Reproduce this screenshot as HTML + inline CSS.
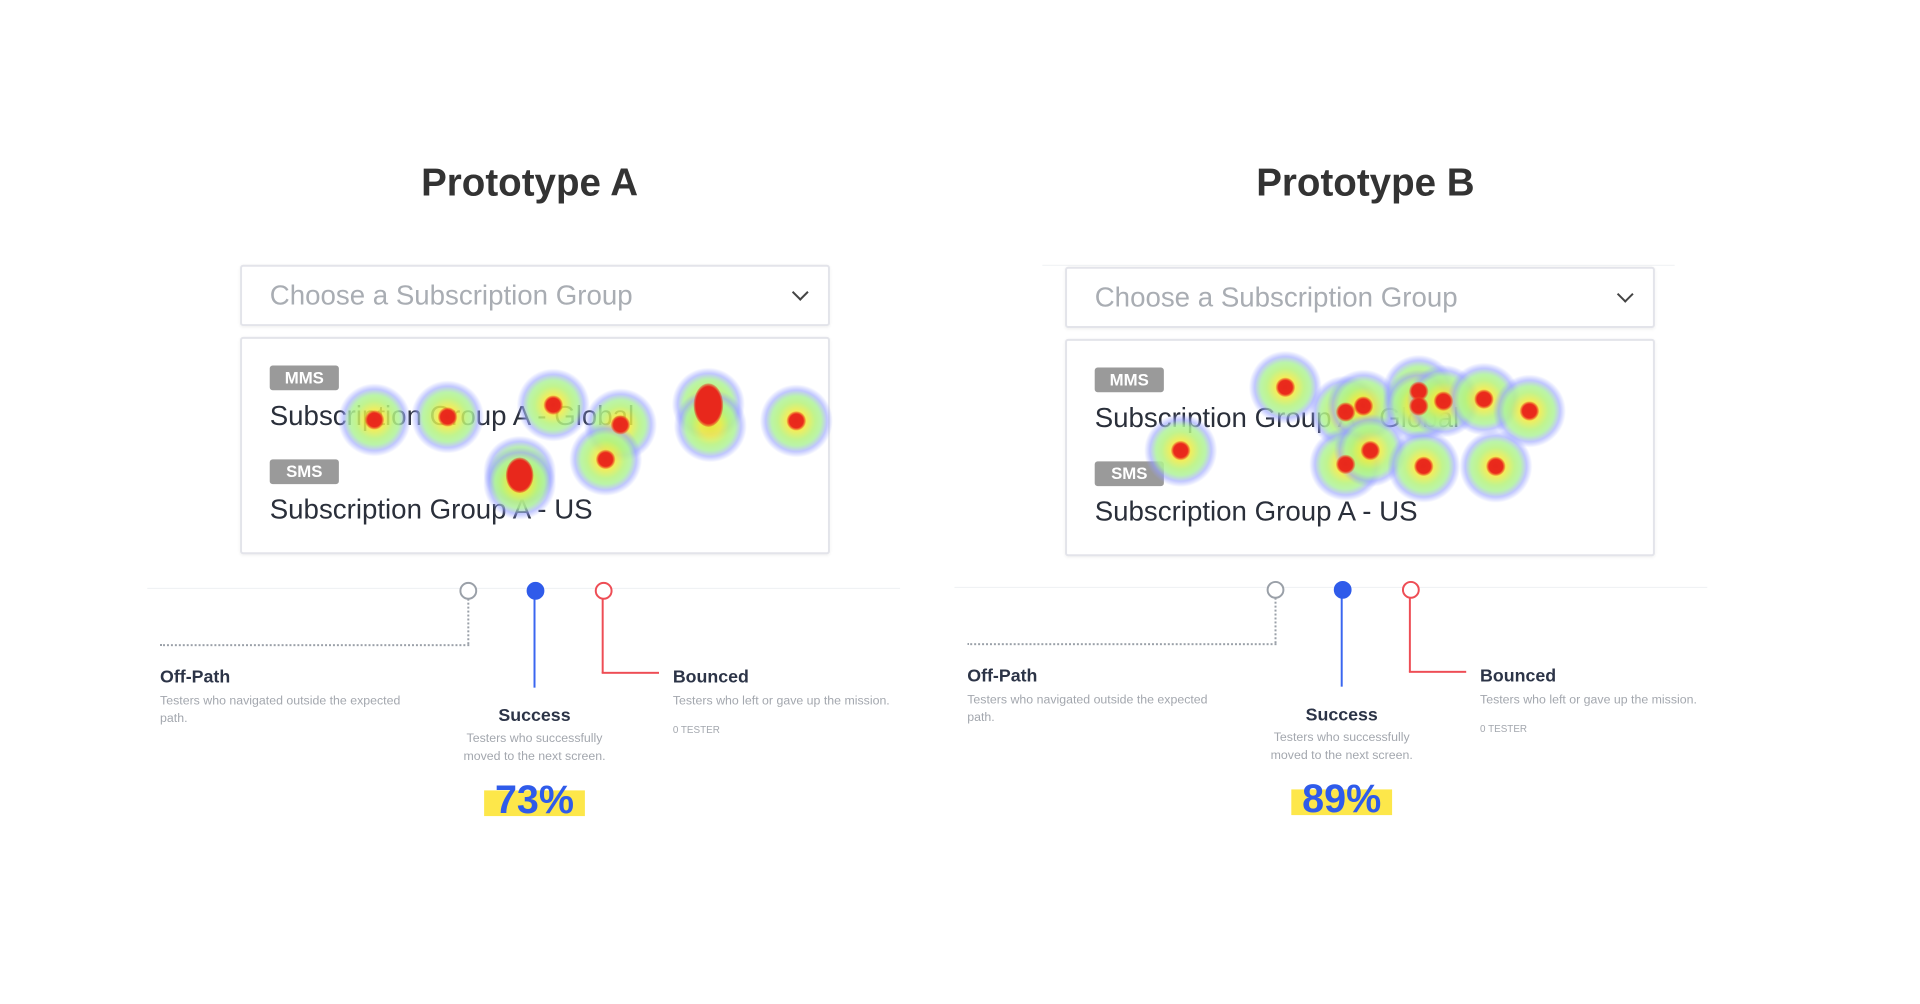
<!DOCTYPE html>
<html><head><meta charset="utf-8"><style>
body{margin:0;width:1920px;height:1004px;background:#fff;position:relative;overflow:hidden;font-family:"Liberation Sans",sans-serif}
#w{position:absolute;left:0;top:0;width:1944px;height:1016px;transform:scale(0.988);transform-origin:0 0}
.a{position:absolute}
.title{font-size:39px;font-weight:bold;color:#333;transform:translateX(-50%);top:164px;white-space:nowrap}
.box{position:absolute;border:2px solid #e3e4ea;border-radius:3px;background:#fff;box-sizing:border-box;box-shadow:0 1px 3px rgba(0,0,0,.06)}
.ph{position:absolute;left:28px;font-size:28px;color:#a9adb3;top:13px}
.chev{position:absolute;right:22px;top:20px;width:10px;height:10px;border-right:2.5px solid #444;border-bottom:2.5px solid #444;transform:rotate(45deg)}
.badge{position:absolute;left:28px;width:70px;height:25px;background:#9a9a9a;border-radius:3px;color:#fff;font-size:17px;font-weight:bold;text-align:center;line-height:25px}
.item{position:absolute;left:28px;font-size:28px;color:#2a2f3a}
.halo{position:absolute;width:74px;height:74px;margin:-37px 0 0 -37px;border-radius:50%;opacity:.85;background:radial-gradient(circle,#f2e22e 0,#f0ea40 10px,#b6f27a 19px,#aef29a 25px,rgba(150,160,255,.7) 31px,rgba(170,170,255,0) 37px)}
.core{position:absolute;width:20px;height:20px;margin:-10px 0 0 -10px;border-radius:50%;background:radial-gradient(circle,#e8281c 0,#ea2a1c 7px,rgba(240,80,30,.5) 9px,rgba(240,120,40,0) 10px)}
.hl{position:absolute;height:1px;background:#eef0f3}
.circ{position:absolute;width:14px;height:14px;margin:-9px 0 0 -9px;border-radius:50%;border:2px solid;background:#fff}
.lbl{position:absolute;font-size:18px;font-weight:bold;color:#2c3447}
.desc{position:absolute;font-size:12.5px;color:#a3a7ae;line-height:18px}
.pct{position:absolute;font-size:40px;font-weight:bold;color:#2f5bea;text-align:center}
</style></head><body><div id="w">

<div class="a title" style="left:536px">Prototype A</div>
<div class="a title" style="left:1382px">Prototype B</div>
<div class="hl" style="left:1055px;top:268px;width:640px"></div>

<div class="box" style="left:243px;top:268px;width:597px;height:62px"><div class="ph">Choose a Subscription Group</div><div class="chev"></div></div>
<div class="box" style="left:243px;top:341px;width:597px;height:220px">
<div class="badge" style="top:27px">MMS</div><div class="item" style="top:62px">Subscription Group A - Global</div>
<div class="badge" style="top:122px">SMS</div><div class="item" style="top:157px">Subscription Group A - US</div></div>

<div class="box" style="left:1078px;top:270px;width:597px;height:62px"><div class="ph">Choose a Subscription Group</div><div class="chev"></div></div>
<div class="box" style="left:1078px;top:343px;width:597px;height:220px">
<div class="badge" style="top:27px">MMS</div><div class="item" style="top:62px">Subscription Group A - Global</div>
<div class="badge" style="top:122px">SMS</div><div class="item" style="top:157px">Subscription Group A - US</div></div>

<div class="halo" style="left:379px;top:425px"></div><div class="halo" style="left:453px;top:422px"></div><div class="halo" style="left:560px;top:410px"></div><div class="halo" style="left:628px;top:430px"></div><div class="halo" style="left:613px;top:465px"></div><div class="halo" style="left:717px;top:409px"></div><div class="halo" style="left:719px;top:431px"></div><div class="halo" style="left:806px;top:426px"></div><div class="halo" style="left:526px;top:478px"></div><div class="halo" style="left:526px;top:489px"></div>
<div class="halo" style="left:1195px;top:456px"></div><div class="halo" style="left:1301px;top:392px"></div><div class="halo" style="left:1362px;top:417px"></div><div class="halo" style="left:1380px;top:411px"></div><div class="halo" style="left:1436px;top:396px"></div><div class="halo" style="left:1436px;top:411px"></div><div class="halo" style="left:1461px;top:406px"></div><div class="halo" style="left:1502px;top:404px"></div><div class="halo" style="left:1548px;top:416px"></div><div class="halo" style="left:1362px;top:470px"></div><div class="halo" style="left:1387px;top:456px"></div><div class="halo" style="left:1441px;top:472px"></div><div class="halo" style="left:1514px;top:472px"></div>

<div class="core" style="left:379px;top:425px"></div><div class="core" style="left:453px;top:422px"></div><div class="core" style="left:560px;top:410px"></div><div class="core" style="left:628px;top:430px"></div><div class="core" style="left:613px;top:465px"></div><div class="core" style="left:717px;top:403px;width:30px;height:44px;margin:-15px 0 0 -15px;border-radius:50%;background:radial-gradient(ellipse,#e8281c 60%,rgba(232,40,28,0) 75%)"></div><div class="core" style="left:806px;top:426px"></div><div class="core" style="left:526px;top:477px;width:28px;height:36px;margin:-14px 0 0 -14px;border-radius:50%;background:radial-gradient(ellipse,#e8281c 60%,rgba(232,40,28,0) 75%)"></div>
<div class="core" style="left:1195px;top:456px"></div><div class="core" style="left:1301px;top:392px"></div><div class="core" style="left:1362px;top:417px"></div><div class="core" style="left:1380px;top:411px"></div><div class="core" style="left:1436px;top:396px"></div><div class="core" style="left:1436px;top:411px"></div><div class="core" style="left:1461px;top:406px"></div><div class="core" style="left:1502px;top:404px"></div><div class="core" style="left:1548px;top:416px"></div><div class="core" style="left:1362px;top:470px"></div><div class="core" style="left:1387px;top:456px"></div><div class="core" style="left:1441px;top:472px"></div><div class="core" style="left:1514px;top:472px"></div>

<div class="hl" style="left:149px;top:595px;width:762px"></div>
<div class="a" style="left:473px;top:598px;height:54px;border-left:2px dotted #9aa0a8"></div>
<div class="a" style="left:162px;top:652px;width:313px;border-top:2px dotted #9aa0a8"></div>
<div class="a" style="left:540px;top:598px;width:2px;height:98px;background:#3a66f0"></div>
<div class="a" style="left:609px;top:598px;width:2px;height:83px;background:#ee4d55"></div>
<div class="a" style="left:609px;top:680px;width:58px;height:2px;background:#ee4d55"></div>
<div class="circ" style="left:474px;top:598px;border-color:#9aa0a8"></div>
<div class="circ" style="left:542px;top:598px;border-color:#2f5bea;background:#2f5bea"></div>
<div class="circ" style="left:611px;top:598px;border-color:#ee4d55"></div>
<div class="lbl" style="left:162px;top:675px">Off-Path</div>
<div class="desc" style="left:162px;top:700px;width:270px">Testers who navigated outside the expected path.</div>
<div class="lbl" style="left:441px;width:200px;text-align:center;top:714px">Success</div>
<div class="desc" style="left:441px;width:200px;text-align:center;top:738px">Testers who successfully<br>moved to the next screen.</div>
<div class="lbl" style="left:681px;top:675px">Bounced</div>
<div class="desc" style="left:681px;top:700px">Testers who left or gave up the mission.</div>
<div class="desc" style="left:681px;top:731px;font-size:10px">0 TESTER</div>
<div class="a" style="left:490px;top:800px;width:102px;height:26px;background:#fde74a"></div>
<div class="pct" style="left:441px;width:200px;top:788px">73%</div>

<div class="hl" style="left:966px;top:594px;width:762px"></div>
<div class="a" style="left:1290px;top:597px;height:54px;border-left:2px dotted #9aa0a8"></div>
<div class="a" style="left:979px;top:651px;width:313px;border-top:2px dotted #9aa0a8"></div>
<div class="a" style="left:1357px;top:597px;width:2px;height:98px;background:#3a66f0"></div>
<div class="a" style="left:1426px;top:597px;width:2px;height:83px;background:#ee4d55"></div>
<div class="a" style="left:1426px;top:679px;width:58px;height:2px;background:#ee4d55"></div>
<div class="circ" style="left:1291px;top:597px;border-color:#9aa0a8"></div>
<div class="circ" style="left:1359px;top:597px;border-color:#2f5bea;background:#2f5bea"></div>
<div class="circ" style="left:1428px;top:597px;border-color:#ee4d55"></div>
<div class="lbl" style="left:979px;top:674px">Off-Path</div>
<div class="desc" style="left:979px;top:699px;width:270px">Testers who navigated outside the expected path.</div>
<div class="lbl" style="left:1258px;width:200px;text-align:center;top:713px">Success</div>
<div class="desc" style="left:1258px;width:200px;text-align:center;top:737px">Testers who successfully<br>moved to the next screen.</div>
<div class="lbl" style="left:1498px;top:674px">Bounced</div>
<div class="desc" style="left:1498px;top:699px">Testers who left or gave up the mission.</div>
<div class="desc" style="left:1498px;top:730px;font-size:10px">0 TESTER</div>
<div class="a" style="left:1307px;top:799px;width:102px;height:26px;background:#fde74a"></div>
<div class="pct" style="left:1258px;width:200px;top:787px">89%</div>
</div></body></html>
